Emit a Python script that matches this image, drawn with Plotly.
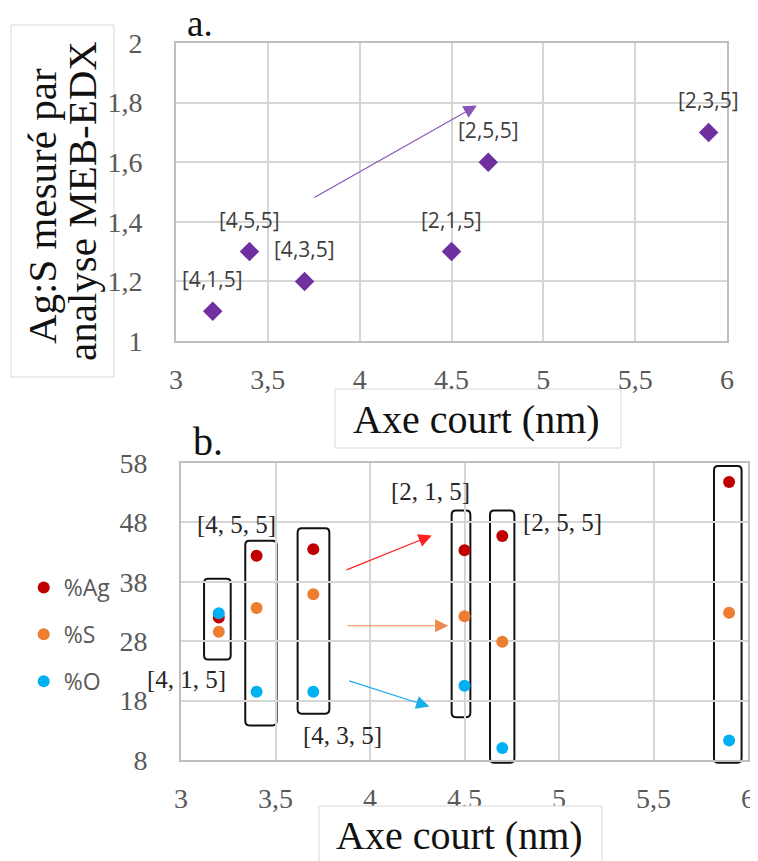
import plotly.graph_objects as go

# ---------------- data ----------------
top_x = [3.2, 3.4, 3.7, 4.5, 4.7, 5.9]
top_ratio = [1.1, 1.3, 1.2, 1.3, 1.6, 1.7]
top_labels = ["[4,1,5]", "[4,5,5]", "[4,3,5]", "[2,1,5]", "[2,5,5]", "[2,3,5]"]

bot_x = [3.2, 3.4, 3.7, 4.5, 4.7, 5.9]
pct_ag = [32.0, 42.4, 43.5, 43.3, 45.7, 54.8]
pct_s = [29.6, 33.6, 35.9, 32.2, 27.9, 32.8]
pct_o = [32.7, 19.5, 19.5, 20.5, 10.0, 11.3]
bot_labels = ["[4, 1, 5]", "[4, 5, 5]", "[4, 3, 5]", "[2, 1, 5]", "[2, 5, 5]", "[2, 3, 5]"]

x_tickvals = [3, 3.5, 4, 4.5, 5, 5.5, 6]
x_ticktext = ["3", "3,5", "4", "4.5", "5", "5,5", "6"]
top_y_tickvals = [1, 1.2, 1.4, 1.6, 1.8, 2]
top_y_ticktext = ["1", "1,2", "1,4", "1,6", "1,8", "2"]
bot_y_tickvals = [8, 18, 28, 38, 48, 58]
bot_y_ticktext = ["8", "18", "28", "38", "48", "58"]

# ---------------- layout helpers (page pixel -> paper) ----------------
OFF = 8                      # default body margin of the html page
W, H = 758 - OFF, 861 - OFF
def px(x):
    return (x - OFF) / W
def py(y):
    return 1 - (y - OFF) / H

TOP_XDOM = [px(176), px(727)]
TOP_YDOM = [py(341), py(43)]
BOT_XDOM = [px(181), px(748)]
BOT_YDOM = [py(760), py(463)]
BOT_XRANGE = [3, 6]
BOT_YRANGE = [8, 58]

def bx2paper(v):
    return BOT_XDOM[0] + (v - BOT_XRANGE[0]) / (BOT_XRANGE[1] - BOT_XRANGE[0]) * (BOT_XDOM[1] - BOT_XDOM[0])
def by2paper(v):
    return BOT_YDOM[0] + (v - BOT_YRANGE[0]) / (BOT_YRANGE[1] - BOT_YRANGE[0]) * (BOT_YDOM[1] - BOT_YDOM[0])

bot_label_pos = [(3.03, 21.5), (3.295, 47.6), (3.852, 12.2), (4.322, 53.2), (5.021, 48.0), (5.751, 60.6)]
group_boxes = [
    (3.122, 3.263, 24.9, 38.5),
    (3.34, 3.506, 13.8, 44.9),
    (3.617, 3.785, 15.8, 47.0),
    (4.432, 4.531, 15.2, 50.0),
    (4.635, 4.764, 7.55, 50.0),
    (5.82, 5.966, 7.55, 57.5),
]

SERIF = "Liberation Serif"
SANS = "Open Sans"
TICKCOL = "#595959"

fig = go.Figure()

fig.add_trace(go.Scatter(
    x=top_x, y=top_ratio, mode="markers", xaxis="x", yaxis="y",
    marker=dict(symbol="diamond", size=15, color="#7030A0"),
    showlegend=False, cliponaxis=False,
))

series = [("%Ag", pct_ag, "#C00000"), ("%S", pct_s, "#ED7D31"), ("%O", pct_o, "#00B0F0")]
for name, vals, col in series:
    fig.add_trace(go.Scatter(
        x=bot_x, y=vals, mode="markers", name=name, xaxis="x2", yaxis="y2",
        marker=dict(size=12, color=col), legendgroup=name, cliponaxis=False,
    ))

axis_common = dict(
    showgrid=True, gridcolor="#d6d6d6", gridwidth=2,
    showline=True, linecolor="#bfbfbf", linewidth=2, mirror=True,
    zeroline=False, ticks="", automargin=False,
    tickfont=dict(family=SERIF, size=28, color=TICKCOL),
)

annotations = []
for xv, yv, lab in zip(top_x, top_ratio, top_labels):
    annotations.append(dict(x=xv, y=yv, xref="x", yref="y", text=lab, showarrow=False,
                            yshift=32, font=dict(family=SANS, size=21, color="#404040")))
for (lx, ly), lab in zip(bot_label_pos, bot_labels):
    annotations.append(dict(x=lx, y=ly, xref="x2", yref="y2", text=lab, showarrow=False,
                            font=dict(family=SERIF, size=25, color="#262626")))

# arrows
arrows = [
    ("x", "y", 3.745, 1.479, 4.638, 1.79, "#8a55b8"),
    ("x2", "y2", 3.868, 39.9, 4.327, 45.8, "#ff2020"),
    ("x2", "y2", 3.873, 30.6, 4.414, 30.6, "#ed8a50"),
    ("x2", "y2", 3.882, 21.4, 4.314, 17.0, "#1aaee8"),
]
for xr, yr, x0, y0, x1, y1, col in arrows:
    annotations.append(dict(x=x1, y=y1, ax=x0, ay=y0, xref=xr, yref=yr, axref=xr, ayref=yr,
                            text="", showarrow=True, arrowhead=2, arrowsize=2.2,
                            arrowwidth=1.2, arrowcolor=col))

# titles / panel letters
paper_texts = [
    (200, 24, "a.", 0, 37),
    (208, 441, "b.", 0, 40),
    (42, 206, "Ag:S mesuré par", -90, 41),
    (82, 201, "analyse MEB-EDX", -90, 41),
    (476, 419, "Axe court (nm)", 0, 40),
    (459, 835, "Axe court (nm)", 0, 40),
]
for tx, ty, txt, ang, fs in paper_texts:
    annotations.append(dict(x=px(tx), y=py(ty), xref="paper", yref="paper", text=txt,
                            textangle=ang, showarrow=False, xanchor="center", yanchor="middle",
                            font=dict(family=SERIF, size=fs, color="#111111")))

shapes = []
# (left, right, top, bottom, filled)
title_boxes = [(11, 114, 25, 377, False), (335, 621, 389, 448, False), (319, 602, 806, 875, True)]
for (bx0, bx1, bx2, bx3, filled) in title_boxes:
    shapes.append(dict(type="rect", xref="paper", yref="paper", x0=px(bx0), x1=px(bx1),
                       y0=py(bx3), y1=py(bx2), line=dict(color="#d9d9d9", width=1),
                       fillcolor="white" if filled else "rgba(0,0,0,0)",
                       layer="above" if filled else "below"))

def rounded(x0, x1, y0, y1, rx=0.022, ry=0.75):
    X0, X1 = bx2paper(x0), bx2paper(x1)
    Y0, Y1 = by2paper(y0), by2paper(y1)
    RX = bx2paper(x0 + rx) - X0
    RY = by2paper(y0 + ry) - Y0
    return (f"M {X0+RX},{Y0} L {X1-RX},{Y0} Q {X1},{Y0} {X1},{Y0+RY} "
            f"L {X1},{Y1-RY} Q {X1},{Y1} {X1-RX},{Y1} L {X0+RX},{Y1} Q {X0},{Y1} {X0},{Y1-RY} "
            f"L {X0},{Y0+RY} Q {X0},{Y0} {X0+RX},{Y0} Z")

for b in group_boxes:
    shapes.append(dict(type="path", xref="paper", yref="paper", path=rounded(*b),
                       line=dict(color="#111111", width=2), layer="below"))

fig.update_layout(
    width=W, height=H, margin=dict(l=0, r=0, t=0, b=0, autoexpand=False),
    paper_bgcolor="white", plot_bgcolor="rgba(0,0,0,0)",
    xaxis=dict(domain=TOP_XDOM, range=[3, 6], tickvals=x_tickvals, ticktext=x_ticktext,
               anchor="y", ticklabelstandoff=12, **axis_common),
    yaxis=dict(domain=TOP_YDOM, range=[1, 2], tickvals=top_y_tickvals, ticktext=top_y_ticktext,
               anchor="x", ticklabelstandoff=26, **axis_common),
    xaxis2=dict(domain=BOT_XDOM, range=BOT_XRANGE, tickvals=x_tickvals, ticktext=x_ticktext,
                anchor="y2", ticklabelstandoff=12, **axis_common),
    yaxis2=dict(domain=BOT_YDOM, range=BOT_YRANGE, tickvals=bot_y_tickvals, ticktext=bot_y_ticktext,
                anchor="x2", ticklabelstandoff=26, **axis_common),
    legend=dict(x=px(23.7), y=py(566), xanchor="left", yanchor="top", bgcolor="rgba(0,0,0,0)",
                font=dict(family=SANS, size=23, color=TICKCOL), tracegroupgap=14,
                traceorder="grouped"),
    showlegend=True,
    annotations=annotations,
    shapes=shapes,
)

fig.write_html("out.html")
